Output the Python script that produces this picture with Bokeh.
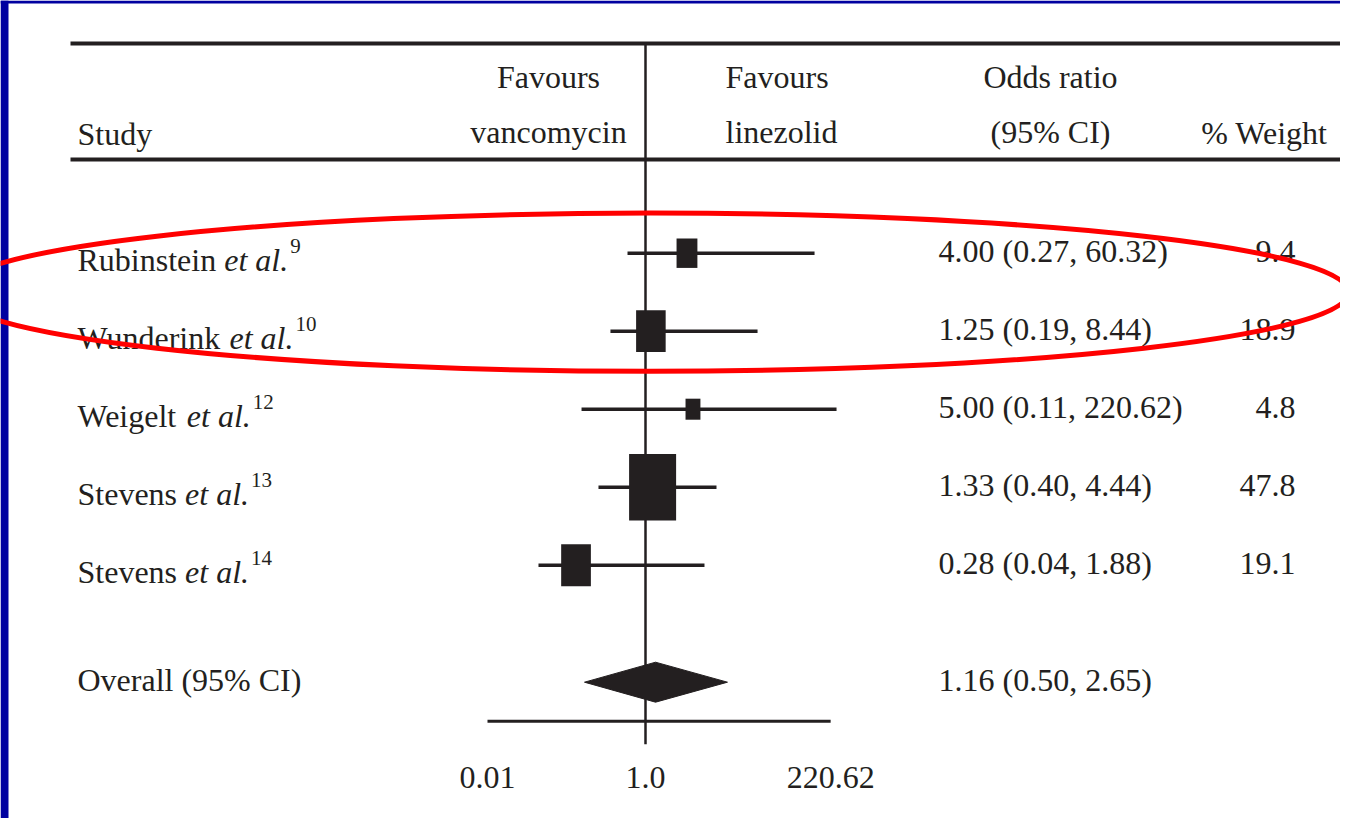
from bokeh.plotting import figure
from bokeh.models import Range1d, LogScale, ColumnDataSource
from bokeh.core.properties import value
from bokeh.embed import file_html
from bokeh.resources import INLINE

# ---------------- data ----------------
studies = ["Rubinstein", "Wunderink", "Weigelt", "Stevens", "Stevens"]
refs = ["9", "10", "12", "13", "14"]
or_reported = [4.00, 1.25, 5.00, 1.33, 0.28]
lo_reported = [0.27, 0.19, 0.11, 0.40, 0.04]
hi_reported = [60.32, 8.44, 220.62, 4.44, 1.88]
weights = [9.4, 18.9, 4.8, 47.8, 19.1]
overall_label = "Overall (95% CI)"
overall_reported = [1.16, 0.50, 2.65]
# where the marks are drawn against the chart's odds-ratio axis
or_drawn = [3.35, 1.17, 3.99, 1.23, 0.132]
lo_drawn = [0.592, 0.360, 0.155, 0.254, 0.0442]
hi_drawn = [138.0, 26.2, 262.0, 7.92, 5.58]
overall_drawn = [1.34, 0.169, 10.9]          # estimate, lower, upper
axis_ticks = [0.01, 1.0, 220.62]
axis_tick_labels = ["0.01", "1.0", "220.62"]
highlight_rows = [0, 1]

# ---------------- layout ----------------
W, H = 1340, 818
ROW0, STEP = 252.7, 78.0          # y (px) of first study row, row pitch
X_NULL, K = 645.0, 79.0           # x (px) of OR = 1, px per decade
INK = "#231f20"
SLIDE = "#0000a0"
FONT = value("Liberation Serif")
FS = "32px"
SH = -12                          # baseline correction for 32px text
SH_SUP = -8                       # baseline correction for 21px text


def ry(py):
    return (py - ROW0) / STEP


rows = list(range(len(studies)))
overall_row = rows[-1] + 1.5
axis_row = rows[-1] + 2.0

p = figure(width=W, height=H,
           x_range=Range1d(0, W), y_range=Range1d(ry(H), ry(0)),
           toolbar_location=None, output_backend="svg", min_border=0,
           x_axis_location=None, y_axis_location=None,
           outline_line_color=None, background_fill_color="white",
           border_fill_color="white")
p.xgrid.visible = False
p.ygrid.visible = False
p.extra_x_ranges = {"or": Range1d(10 ** ((0 - X_NULL) / K), 10 ** ((W - X_NULL) / K))}
p.extra_x_scales = {"or": LogScale()}

# slide frame (blue edge at left and top)
p.quad(left=[0, 0], right=[8, W], top=[ry(0), ry(0)], bottom=[ry(H), ry(3)],
       fill_color=SLIDE, line_color=None)

# table rules
p.segment(x0=[70, 70], x1=[W, W], y0=[ry(43), ry(159)], y1=[ry(43), ry(159)],
          line_color=INK, line_width=4)

# headers
hdr = dict(text_font=FONT, text_font_size=FS, text_color=INK, text_baseline="alphabetic")
p.text(x=[77], y=[ry(145)], text=["Study"], text_align="left", y_offset=SH, **hdr)
p.text(x=[548, 548], y=[ry(88), ry(143)], text=["Favours", "vancomycin"], text_align="center",
       y_offset=SH, **hdr)
p.text(x=[725, 725], y=[ry(88), ry(143)], text=["Favours", "linezolid"], text_align="left",
       y_offset=SH, **hdr)
p.text(x=[1050, 1050], y=[ry(88), ry(143)], text=["Odds ratio", "(95% CI)"], text_align="center",
       y_offset=SH, **hdr)
p.text(x=[1327], y=[ry(144)], text=["% Weight"], text_align="right", y_offset=SH, **hdr)

# study labels (regular name + italic "et al." + superscript reference)
REG = {" ": 250, ".": 250, "R": 667, "u": 500, "b": 500, "i": 278, "n": 500, "s": 389,
       "t": 278, "e": 444, "W": 944, "d": 500, "r": 333, "k": 500, "g": 500, "l": 278,
       "S": 556, "v": 500}
fs_px = 32.0
name_x = 77.0
ital_x = [name_x + sum(REG.get(c, 500) for c in s + " ") / 1000 * fs_px for s in studies]
sup_x = [x + 2.0 * fs_px + 2 for x in ital_x]
src = ColumnDataSource(dict(
    y=rows, name=studies, ital_x=ital_x, etal=["et al."] * len(studies), sup_x=sup_x, ref=refs,
    ci=[f"{o:.2f} ({l:.2f}, {h:.2f})" for o, l, h in zip(or_reported, lo_reported, hi_reported)],
    wt=[f"{w:.1f}" for w in weights],
    o=or_drawn, lo=lo_drawn, hi=hi_drawn,
    bw=[6.8 * w ** 0.5 for w in weights], bh=[9.6 * w ** 0.5 for w in weights],
))
p.text(x=name_x, y="y", text="name", source=src, text_align="left", y_offset=19 + SH, **hdr)
p.text(x="ital_x", y="y", text="etal", source=src, text_align="left", y_offset=19 + SH,
       text_font_style="italic", **hdr)
p.text(x="sup_x", y="y", text="ref", source=src, text_align="left", y_offset=1 + SH_SUP,
       text_font=FONT, text_font_size="21px", text_color=INK, text_baseline="alphabetic")
p.text(x=938, y="y", text="ci", source=src, text_align="left", y_offset=10 + SH, **hdr)
p.text(x=1295, y="y", text="wt", source=src, text_align="right", y_offset=10 + SH, **hdr)

# overall row text
p.text(x=[name_x], y=[overall_row], text=[overall_label], text_align="left",
       y_offset=10 + SH, **hdr)
p.text(x=[938], y=[overall_row],
       text=[f"{overall_reported[0]:.2f} ({overall_reported[1]:.2f}, {overall_reported[2]:.2f})"],
       text_align="left", y_offset=10 + SH, **hdr)

# null line
p.segment(x0=[1.0], x1=[1.0], y0=[ry(43)], y1=[axis_row + 23 / STEP],
          line_color=INK, line_width=2.5, x_range_name="or")

# CIs and boxes
p.segment(x0="lo", x1="hi", y0="y", y1="y", source=src, line_color=INK, line_width=3.5,
          x_range_name="or")
p.rect(x="o", y="y", width="bw", height="bh", width_units="screen", height_units="screen",
       source=src, fill_color=INK, line_color=None, x_range_name="or")

# overall diamond
est, olo, ohi = overall_drawn
dh = 20 / STEP
p.patch(x=[olo, est, ohi, est], y=[overall_row, overall_row - dh, overall_row, overall_row + dh],
        fill_color=INK, line_color=INK, line_width=1, x_range_name="or")

# axis
p.segment(x0=[axis_ticks[0]], x1=[axis_ticks[-1]], y0=[axis_row], y1=[axis_row],
          line_color=INK, line_width=3, x_range_name="or")
p.text(x=axis_ticks, y=[axis_row] * len(axis_ticks), text=axis_tick_labels, text_align="center",
       y_offset=68 + SH, x_range_name="or", **hdr)

# red highlight ellipse around the first two studies
p.ellipse(x=[650], y=[sum(highlight_rows) / len(highlight_rows)], width=[1396],
          height=[len(highlight_rows) + 0.03], fill_color=None, line_color="#ff0000", line_width=5)

open("out.html", "w").write(file_html(p, INLINE, title="Forest plot"))
